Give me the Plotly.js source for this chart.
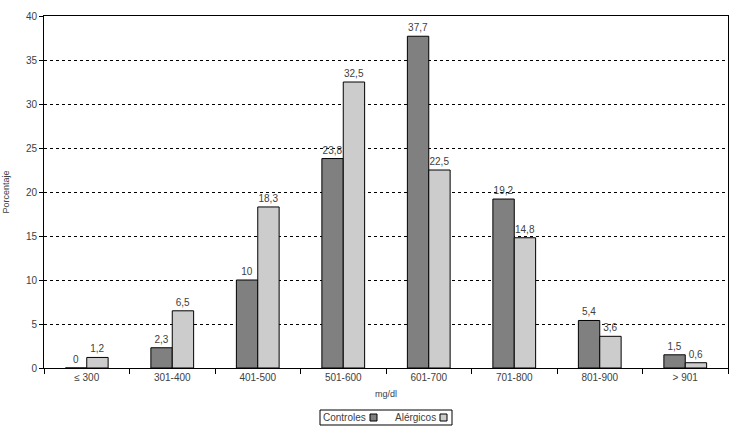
<!DOCTYPE html>
<html>
<head>
<meta charset="utf-8">
<script src="https://cdn.plot.ly/plotly-3.0.1.min.js"></script>
<style>html,body{margin:0;padding:0;background:#fff;}#chart{width:736px;height:432px;}</style>
</head>
<body>
<div id="chart"></div>
<script>
var categories = ['≤ 300', '301-400', '401-500', '501-600', '601-700', '701-800', '801-900', '> 901'];
var controles = [0, 2.3, 10, 23.8, 37.7, 19.2, 5.4, 1.5];
var alergicos = [1.2, 6.5, 18.3, 32.5, 22.5, 14.8, 3.6, 0.6];
var seriesNames = ['Controles', 'Alérgicos'];
var yTicks = [0, 5, 10, 15, 20, 25, 30, 35, 40];

function fmt(v) { return String(v).replace('.', ','); }

var font = {family: 'Liberation Sans, Arial, sans-serif', size: 10, color: '#404040'};

var traces = [
  {type: 'bar', name: seriesNames[0], x: categories, y: controles,
   text: controles.map(fmt), textposition: 'outside', cliponaxis: false,
   textfont: font,
   marker: {color: '#808080', line: {color: '#000', width: 1}}},
  {type: 'bar', name: seriesNames[1], x: categories, y: alergicos,
   text: alergicos.map(fmt), textposition: 'outside', cliponaxis: false,
   textfont: font,
   marker: {color: '#cccccc', line: {color: '#000', width: 1}}}
];

var layout = {
  width: 736, height: 432,
  margin: {l: 44, r: 8, t: 16, b: 64},
  paper_bgcolor: '#fff', plot_bgcolor: '#fff',
  font: font,
  barmode: 'group', bargap: 0.5, bargroupgap: 0,
  showlegend: false,
  xaxis: {
    type: 'category', tickson: 'boundaries', ticks: 'outside', ticklen: 5, tickcolor: '#000',
    showline: true, linecolor: '#000', linewidth: 1, mirror: true,
    showgrid: false, tickfont: font,
    title: {text: 'mg/dl', font: {family: font.family, size: 9, color: '#404040'}, standoff: 8}
  },
  yaxis: {
    range: [0, 40], tickvals: yTicks, ticks: 'outside', ticklen: 4, tickcolor: '#000',
    showline: true, linecolor: '#000', linewidth: 1, mirror: true,
    showgrid: true, gridcolor: '#000', gridwidth: 1, griddash: 'dot',
    zeroline: false, tickfont: font,
    title: {text: 'Porcentaje', font: {family: font.family, size: 9, color: '#404040'}, standoff: 14}
  },
  annotations: [
    {xref: 'paper', yref: 'paper', x: (368 - 44) / 684, y: -(417 - 368) / 352, text: seriesNames[0],
     showarrow: false, xanchor: 'right', yanchor: 'middle', font: font},
    {xref: 'paper', yref: 'paper', x: (438 - 44) / 684, y: -(417 - 368) / 352, text: seriesNames[1],
     showarrow: false, xanchor: 'right', yanchor: 'middle', font: font}
  ],
  shapes: [
    {type: 'rect', xref: 'paper', yref: 'paper', x0: (320 - 44) / 684, x1: (452 - 44) / 684,
     y0: -(410 - 368) / 352, y1: -(425 - 368) / 352, line: {color: '#000', width: 1}, fillcolor: 'rgba(0,0,0,0)'},
    {type: 'rect', xref: 'paper', yref: 'paper', x0: (370 - 44) / 684, x1: (377 - 44) / 684,
     y0: -(414 - 368) / 352, y1: -(421 - 368) / 352, line: {color: '#000', width: 1}, fillcolor: '#808080'},
    {type: 'rect', xref: 'paper', yref: 'paper', x0: (440 - 44) / 684, x1: (447 - 44) / 684,
     y0: -(414 - 368) / 352, y1: -(421 - 368) / 352, line: {color: '#000', width: 1}, fillcolor: '#cccccc'}
  ]
};

Plotly.newPlot('chart', traces, layout, {displayModeBar: false, staticPlot: true});
</script>
</body>
</html>
